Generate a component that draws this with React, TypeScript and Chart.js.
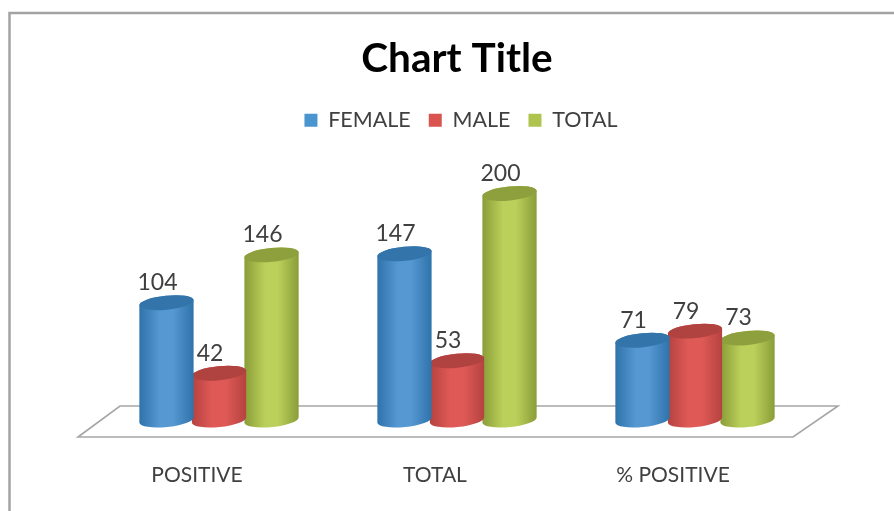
import React, { useEffect, useRef } from "react";
import { Chart, registerables } from "chart.js";

Chart.register(...registerables);

const categories = ["POSITIVE", "TOTAL", "% POSITIVE"];
const seriesNames = ["FEMALE", "MALE", "TOTAL"];
const femaleValues = [104, 147, 71];
const maleValues = [42, 53, 79];
const totalValues = [146, 200, 73];

const legendColors = ["#4a94d0", "#d9534f", "#aec44f"];
const edgeColors = ["#2f73ab", "#b5423f", "#8a9c38"];
const midColors = ["#5698d2", "#df5a57", "#bad05a"];
const capColors = ["#3374aa", "#b0423f", "#8e9f3e"];

const RY = 7;
const TILT = -0.1;
const FONT = "Lato, 'Open Sans', sans-serif";
const TEXT = "#404040";

function cylinderDraw(this: any, ctx: CanvasRenderingContext2D, di: number) {
  const w = this.width + 2;
  const rx = w / 2;
  const { x, y, base } = this;
  const g = ctx.createLinearGradient(x - rx, 0, x + rx, 0);
  g.addColorStop(0, edgeColors[di]);
  g.addColorStop(0.38, midColors[di]);
  g.addColorStop(0.62, midColors[di]);
  g.addColorStop(1, edgeColors[di]);
  ctx.save();
  ctx.beginPath();
  ctx.ellipse(x, base - 1, rx, RY, TILT, 0, Math.PI);
  ctx.ellipse(x, y, rx, RY, TILT, Math.PI, Math.PI * 2);
  ctx.closePath();
  ctx.fillStyle = g;
  ctx.fill();
  ctx.beginPath();
  ctx.ellipse(x, y, rx, RY, TILT, 0, Math.PI * 2);
  ctx.fillStyle = capColors[di];
  ctx.fill();
  ctx.restore();
}

const cylinderPlugin = {
  id: "cylinder",
  afterDatasetsUpdate(chart: any) {
    chart.data.datasets.forEach((_: any, di: number) => {
      chart.getDatasetMeta(di).data.forEach((el: any) => {
        el.draw = function (ctx: CanvasRenderingContext2D) {
          cylinderDraw.call(this, ctx, di);
        };
      });
    });
  },
  afterLayout(chart: any) {
    chart.legend.left += 4;
    chart.legend.right += 4;
  },
  beforeDraw(chart: any) {
    const { ctx, width, height } = chart;
    ctx.save();
    ctx.fillStyle = "#ffffff";
    ctx.fillRect(0, 0, width, height);
    ctx.strokeStyle = "#a3a3a3";
    ctx.lineWidth = 2.5;
    ctx.beginPath();
    ctx.moveTo(9.5, height);
    ctx.lineTo(9.5, 13);
    ctx.lineTo(width, 13);
    ctx.stroke();
    ctx.restore();
  },
  beforeDatasetsDraw(chart: any) {
    const { ctx, chartArea } = chart;
    const y0 = chart.scales.y.getPixelForValue(0);
    ctx.save();
    ctx.strokeStyle = "#a6a6a6";
    ctx.lineWidth = 1.6;
    ctx.beginPath();
    ctx.moveTo(chartArea.left - 22, y0 + 16);
    ctx.lineTo(chartArea.left + 20, y0 - 15);
    ctx.lineTo(chartArea.right + 24, y0 - 15);
    ctx.lineTo(chartArea.right - 21, y0 + 16);
    ctx.closePath();
    ctx.stroke();
    ctx.restore();
  },
  afterDatasetsDraw(chart: any) {
    const { ctx } = chart;
    ctx.save();
    ctx.font = `23px ${FONT}`;
    ctx.fillStyle = TEXT;
    ctx.textAlign = "center";
    ctx.textBaseline = "middle";
    chart.data.datasets.forEach((ds: any, di: number) => {
      chart.getDatasetMeta(di).data.forEach((el: any, i: number) => {
        ctx.fillText(String(ds.data[i]), el.x - 9, el.y - 20);
      });
    });
    ctx.restore();
  },
};

export default function App() {
  const ref = useRef<HTMLCanvasElement>(null);
  useEffect(() => {
    const values = [femaleValues, maleValues, totalValues];
    const chart = new Chart(ref.current!, {
      type: "bar",
      data: {
        labels: categories,
        datasets: seriesNames.map((name, i) => ({
          label: name,
          data: values[i],
          backgroundColor: legendColors[i],
          clip: false,
        })),
      },
      options: {
        responsive: false,
        animation: false,
        events: [],
        layout: { padding: { left: 100, right: 80, top: 0, bottom: 10 } },
        datasets: { bar: { barPercentage: 1, categoryPercentage: 0.662 } },
        plugins: {
          title: {
            display: true,
            text: "Chart Title",
            color: "#000000",
            font: { family: FONT, size: 40.5, weight: "bold" },
            padding: { top: 35, bottom: 8 },
          },
          legend: {
            display: true,
            position: "top",
            labels: {
              color: TEXT,
              font: { family: FONT, size: 21.5 },
              boxWidth: 13,
              boxHeight: 13,
              padding: 18,
            },
          },
          tooltip: { enabled: false },
        },
        scales: {
          x: {
            grid: { display: false },
            border: { display: false },
            afterFit(axis: any) {
              axis.height = 80;
            },
            ticks: {
              color: TEXT,
              font: { family: FONT, size: 21 },
              padding: 34,
              labelOffset: -22,
              maxRotation: 0,
            },
          },
          y: { display: false, min: 0, max: 246 },
        },
      },
      plugins: [cylinderPlugin],
    } as any);
    return () => chart.destroy();
  }, []);
  return (
    <div style={{ position: "fixed", left: 0, top: 0, width: 894, height: 511 }}>
      <canvas ref={ref} width={894} height={511} style={{ display: "block", filter: "blur(0.5px)" }} />
    </div>
  );
}
